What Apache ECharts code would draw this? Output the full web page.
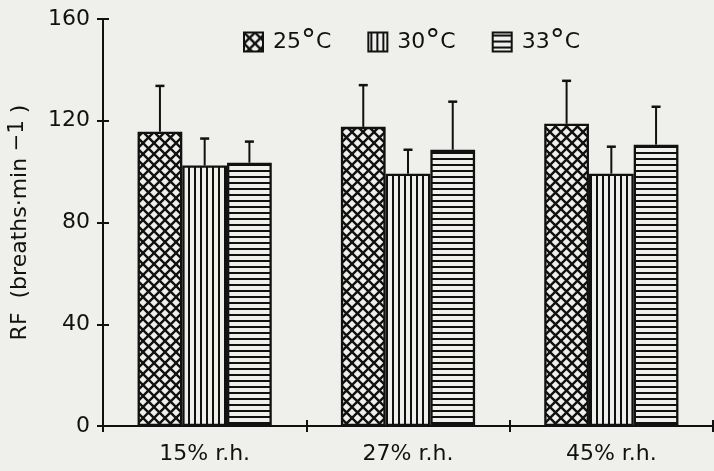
<!DOCTYPE html>
<html>
<head>
<meta charset="utf-8">
<script src="https://cdn.jsdelivr.net/npm/echarts@6/dist/echarts.min.js"></script>
<style>
  html, body { margin: 0; padding: 0; background: #efefeb; }
  #chart { width: 714px; height: 471px; }
</style>
</head>
<body>
<div id="chart"></div>
<script>
// Respiratory frequency at three temperatures and three humidity levels
const categories = ['15% r.h.', '27% r.h.', '45% r.h.'];
const seriesNames = ['25°C', '30°C', '33°C'];
const meanRF25 = [115.7, 117.6, 118.8];
const meanRF30 = [102.4, 99.2, 99.2];
const meanRF33 = [103.5, 108.6, 110.6];
const sdRF25 = [18.0, 16.4, 16.9];
const sdRF30 = [10.6, 9.4, 10.6];
const sdRF33 = [8.3, 18.9, 14.9];
const yTicks = [0, 40, 80, 120, 160];

const means = [meanRF25, meanRF30, meanRF33];
const sds = [sdRF25, sdRF30, sdRF33];

const BG = '#efefeb';
const INK = '#111';
const FONT = 'DejaVu Sans, Liberation Sans, sans-serif';

function makeTile(size, draw) {
  const c = document.createElement('canvas');
  c.width = size; c.height = size;
  const g = c.getContext('2d');
  g.fillStyle = BG;
  g.fillRect(0, 0, size, size);
  g.strokeStyle = INK;
  draw(g, size);
  return c;
}

// cross-hatch, vertical stripes, horizontal stripes
const patterns = [
  makeTile(11, (g, s) => {
    g.lineWidth = 2.4;
    g.beginPath();
    g.moveTo(-1, -1); g.lineTo(s + 1, s + 1);
    g.moveTo(s + 1, -1); g.lineTo(-1, s + 1);
    g.stroke();
  }),
  makeTile(6, (g, s) => {
    g.lineWidth = 2;
    g.beginPath();
    g.moveTo(3, 0); g.lineTo(3, s);
    g.stroke();
  }),
  makeTile(6, (g, s) => {
    g.lineWidth = 2;
    g.beginPath();
    g.moveTo(0, 3); g.lineTo(s, 3);
    g.stroke();
  })
];

const BAR_FRAC = 0.22;

const barSeries = seriesNames.map((name, i) => ({
  name: name,
  type: 'bar',
  data: means[i],
  barWidth: (BAR_FRAC * 100) + '%',
  barGap: '0%',
  itemStyle: {
    color: { image: patterns[i], repeat: 'repeat' },
    borderColor: INK,
    borderWidth: 2.3
  },
  emphasis: { disabled: true },
  z: 2
}));

// upward error bars (mean + SD) placed over each bar
const errorSeries = seriesNames.map((name, i) => ({
  type: 'custom',
  name: name + ' SD',
  data: categories.map((c, j) => [j, means[i][j], means[i][j] + sds[i][j]]),
  renderItem: function (params, api) {
    const catW = api.size([1, 0])[0];
    const barW = catW * BAR_FRAC;
    const dx = (i - 1) * barW;
    const base = api.coord([api.value(0), api.value(1)]);
    const top = api.coord([api.value(0), api.value(2)]);
    const x = base[0] + dx;
    const cap = 4.5;
    return {
      type: 'group',
      children: [
        { type: 'line', shape: { x1: x, y1: base[1], x2: x, y2: top[1] },
          style: { stroke: INK, lineWidth: 2 } },
        { type: 'line', shape: { x1: x - cap, y1: top[1], x2: x + cap, y2: top[1] },
          style: { stroke: INK, lineWidth: 2.5 } }
      ]
    };
  },
  z: 3,
  silent: true
}));

const chart = echarts.init(document.getElementById('chart'), null, { renderer: 'canvas' });

chart.setOption({
  backgroundColor: BG,
  animation: false,
  legend: {
    data: seriesNames,
    left: 243,
    top: 27,
    padding: 0,
    itemWidth: 19,
    itemHeight: 19,
    itemGap: 36,
    icon: 'rect',
    selectedMode: false,
    formatter: function (name) {
      return '{n|' + name.replace('°C', '') + '}{d|°}{n|C}';
    },
    textStyle: {
      padding: [0, 0, 0, 5],
      rich: {
        n: { fontFamily: FONT, fontSize: 22, color: INK },
        d: { fontFamily: FONT, fontSize: 30, color: INK, padding: [0, 0, 0, 0] }
      }
    }
  },
  grid: { left: 103, right: 1, top: 19, bottom: 45, containLabel: false, outerBoundsMode: 'none' },
  xAxis: [
    {
      type: 'category',
      data: categories,
      position: 'bottom',
      axisLine: { lineStyle: { color: INK, width: 2 } },
      axisTick: { show: true, length: 6, inside: false, lineStyle: { color: INK, width: 2 } },
      axisLabel: { fontFamily: FONT, fontSize: 22, color: INK, margin: 17 }
    },
    {
      type: 'category',
      data: categories,
      position: 'bottom',
      axisLine: { show: false },
      axisTick: { show: true, length: 6, inside: true, lineStyle: { color: INK, width: 2 } },
      axisLabel: { show: false }
    }
  ],
  yAxis: [
    {
      type: 'value',
      min: yTicks[0],
      max: yTicks[yTicks.length - 1],
      interval: yTicks[1] - yTicks[0],
      splitLine: { show: false },
      axisLine: { show: true, lineStyle: { color: INK, width: 2 } },
      axisTick: { show: true, length: 6, lineStyle: { color: INK, width: 2 } },
      axisLabel: { fontFamily: FONT, fontSize: 22, color: INK, margin: 13 },
      name: '{t|RF  (breaths·min}{s| −1}{t| )}',
      nameLocation: 'middle',
      nameRotate: 90,
      nameGap: 70,
      nameTextStyle: {
        rich: {
          t: { fontFamily: FONT, fontSize: 22, color: INK },
          s: { fontFamily: FONT, fontSize: 21, color: INK, padding: [0, 0, 5, 0] }
        }
      }
    },
    {
      type: 'value',
      min: yTicks[0],
      max: yTicks[yTicks.length - 1],
      interval: yTicks[1] - yTicks[0],
      position: 'left',
      splitLine: { show: false },
      axisLine: { show: false },
      axisTick: { show: true, inside: true, length: 6, lineStyle: { color: INK, width: 2 } },
      axisLabel: { show: false }
    }
  ],
  series: barSeries.concat(errorSeries)
});
</script>
</body>
</html>
